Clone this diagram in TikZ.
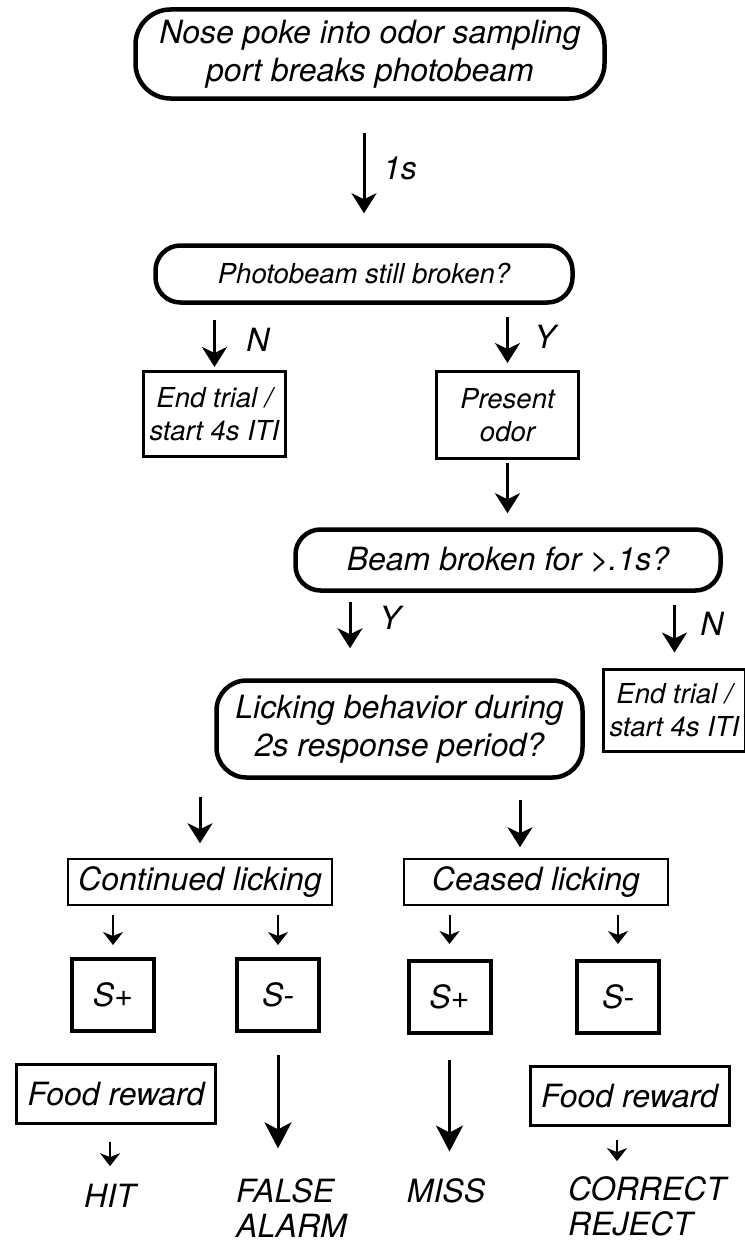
\documentclass[tikz,border=0pt]{standalone}
\usepackage{fontspec}
\setmainfont{TeX Gyre Heros}
\usetikzlibrary{arrows.meta}
\newcommand\fbig{\fontsize{32}{38}\selectfont\itshape}
\newcommand\fmid{\fontsize{27.5}{33}\selectfont\itshape}
\newcommand\fres{\fontsize{32}{35}\selectfont\itshape}
\begin{document}
\begin{tikzpicture}[x=1pt,y=-1pt,
  rbig/.style={draw, line width=4.5pt, rectangle, align=center, inner sep=0pt, font=\fbig},
  sbox/.style={draw, line width=3pt, rectangle, align=center, inner sep=0pt, font=\fmid},
  tbox/.style={draw, line width=1.5pt, rectangle, align=center, inner sep=0pt, font=\fbig, minimum width=264, minimum height=46},
  qbox/.style={draw, line width=4pt, rectangle, inner sep=0pt, font=\fbig, minimum width=82, minimum height=72},
  fbox/.style={draw, line width=3pt, rectangle, inner sep=0pt, font=\fbig, minimum width=199, minimum height=59},
  txt/.style={inner sep=0pt, font=\fres},
  lbl/.style={inner sep=0pt, font=\fbig},
  arr/.style={line width=3pt, -{Stealth[length=20pt,width=25pt,inset=6pt]}},
  sarr/.style={line width=2pt, -{Stealth[length=13pt,width=20pt,inset=4pt]}},
  larr/.style={line width=3pt, -{Stealth[length=26pt,width=27pt,inset=7pt]}}
]
\useasboundingbox (0,0) rectangle (744,1247);
% boxes
\node[rbig, minimum width=469, minimum height=89, rounded corners=35pt] (n1) at (370,54) {Nose poke into odor sampling\\port breaks photobeam};
\node[rbig, minimum width=417, minimum height=57, rounded corners=25pt, font=\fmid] (n2) at (364,274) {Photobeam still broken?};
\node[sbox, minimum width=142, minimum height=85] (e1) at (214.5,414) {End trial /\\start 4s ITI};
\node[sbox, minimum width=142, minimum height=87] (po) at (507.5,415) {Present\\odor};
\node[rbig, minimum width=425, minimum height=61, rounded corners=25pt] (bb) at (508,560) {Beam broken for >.1s?};
\node[sbox, minimum width=142, minimum height=82] (e2) at (674.5,710) {End trial /\\start 4s ITI};
\node[rbig, minimum width=366, minimum height=97, rounded corners=30pt] (lk) at (399.5,729) {Licking behavior during\\2s response period?};
\node[tbox] (cl) at (200,882) {Continued licking};
\node[tbox] (cs) at (536,882) {Ceased licking};
\node[qbox] (s1) at (113,995) {S+};
\node[qbox] (s2) at (278,995) {S-};
\node[qbox] (s3) at (449.5,997) {S+};
\node[qbox] (s4) at (618,997) {S-};
\node[fbox] (f1) at (116,1094) {Food reward};
\node[fbox] (f2) at (629.5,1096) {Food reward};
\node[txt] (hit) at (110,1196) {HIT};
\node[txt, align=left] (fa) at (291.5,1208) {FALSE\\ALARM};
\node[txt] (miss) at (446,1191) {MISS};
\node[txt, align=left] (cr) at (647,1206) {CORRECT\\REJECT};
% labels
\node[lbl] (l1) at (400,168) {1s};
\node[lbl] (l2) at (258,340) {N};
\node[lbl] (l3) at (545,337) {Y};
\node[lbl] (l4) at (390,618) {Y};
\node[lbl] (l5) at (712,624) {N};
% helper coordinates
\coordinate (ya) at ([xshift=-49.5pt]lk.north);
\coordinate (cb) at ([xshift=-16pt]cs.north);
\coordinate (fb) at ([xshift=-12.5pt]f2.south);
% connectors
\draw[arr, shorten <=32pt, shorten >=30pt] (n1.south -| n2) -- (n2.north);
\draw[arr, shorten <=15pt, shorten >=3pt] (n2.south -| e1) -- (e1.north);
\draw[arr, shorten <=12pt, shorten >=7pt] (n2.south -| po) -- (po.north);
\draw[arr, shorten <=3pt, shorten >=14pt] (po.south) -- (bb.north -| po);
\draw[arr, shorten <=9pt, shorten >=30pt] (bb.south -| ya) -- (ya);
\draw[arr, shorten <=12pt, shorten >=15pt] (bb.south -| e2) -- (e2.north);
\draw[arr, shorten <=17pt, shorten >=15pt] (lk.south -| cl) -- (cl.north);
\draw[arr, shorten <=20pt, shorten >=11pt] (lk.south -| cb) -- (cb);
\draw[sarr, shorten <=9pt, shorten >=12pt] (cl.south -| s1) -- (s1.north);
\draw[sarr, shorten <=9pt, shorten >=12pt] (cl.south -| s2) -- (s2.north);
\draw[sarr, shorten <=9pt, shorten >=15pt] (cs.south -| s3) -- (s3.north);
\draw[sarr, shorten <=9pt, shorten >=15pt] (cs.south -| s4) -- (s4.north);
\draw[larr, shorten <=22pt, shorten >=30pt] (s2.south) -- (fa.north -| s2);
\draw[larr, shorten <=25pt, shorten >=27pt] (s3.south) -- (miss.north -| s3);
\draw[sarr, shorten <=17pt, shorten >=18pt] (f1.south -| hit) -- (hit.north);
\draw[sarr, shorten <=13pt, shorten >=15pt] (fb) -- (fb |- cr.north);
\end{tikzpicture}
\end{document}
